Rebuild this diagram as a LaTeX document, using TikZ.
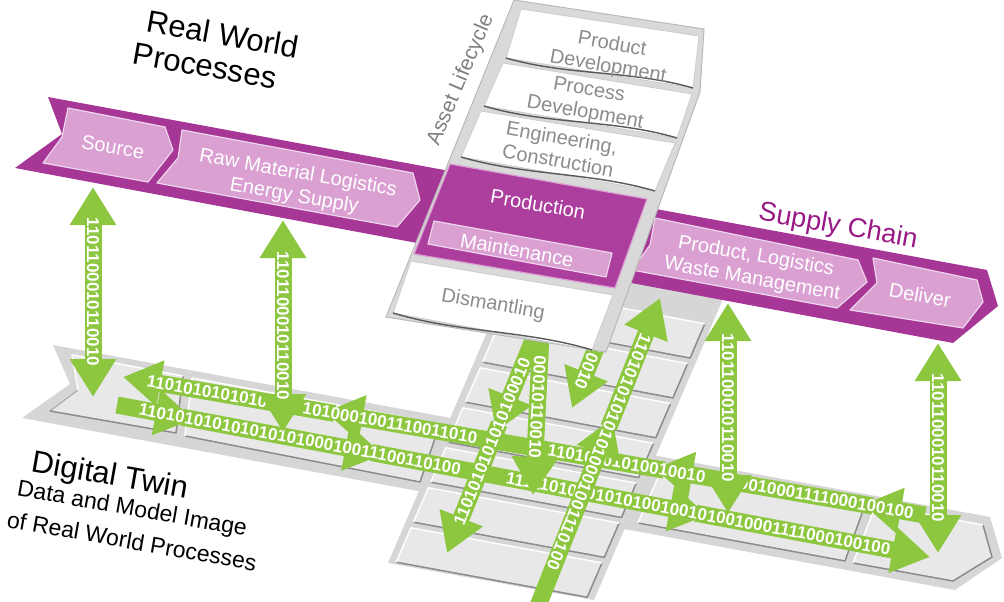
\documentclass[tikz,border=0pt]{standalone}
\usepackage{fontspec}
\setmainfont{Liberation Sans}
\usetikzlibrary{arrows.meta,calc}

\definecolor{bandmag}{RGB}{166,55,150}
\definecolor{prodmag}{RGB}{172,62,158}
\definecolor{chevpink}{RGB}{218,160,210}
\definecolor{supplymag}{RGB}{152,24,134}
\definecolor{bitgreen}{RGB}{141,198,63}
\definecolor{twingray}{RGB}{214,214,214}
\definecolor{tilegray}{RGB}{232,232,232}

\tikzset{
  chev/.style={fill=chevpink, draw=white!55!chevpink, line width=1.2pt, line join=round},
  tile/.style={fill=tilegray, draw=gray!70, line width=1pt, line join=round},
  tilelight/.style={draw=white, line width=1.6pt, line join=round},
  tileshade/.style={draw=black!45, line width=1.4pt, line join=round},
  lifebox/.style={fill=white, draw=gray!40, line width=0.8pt},
  paperedge/.style={draw=black!65, line width=1.4pt},
  bits/.style={draw=bitgreen, line width=17pt, -{Triangle[width=44pt,length=38pt]}},
  bitsboth/.style={draw=bitgreen, line width=17pt, {Triangle[width=44pt,length=38pt]}-{Triangle[width=44pt,length=38pt]}},
  bittext/.style={text=white, inner sep=0pt, font=\fontsize{17}{17}\selectfont\bfseries},
  boxtext/.style={text=white, align=center, font=\fontsize{20}{23}\selectfont},
  lifetext/.style={text=black!45, align=center, font=\fontsize{20}{23}\selectfont},
  titletext/.style={font=\fontsize{31}{31}\selectfont},
  subtext/.style={font=\fontsize{23}{23}\selectfont},
}

\begin{document}
\begin{tikzpicture}[x=1pt,y=-1pt]
      \useasboundingbox (0,0) rectangle (1004,602) ;
      % digital twin platform
      \fill[twingray] (53,345) -- (990,517) -- (1002,558) -- (955,590) -- (22,418) -- (70,384) -- cycle ;
      \fill[twingray] (520,255) -- (732,278) -- (594,600) -- (388,563) -- cycle ;
      \draw[tile] (72,355) -- (183,376) -- (176,433) -- (50,411) -- (78,390) -- cycle ;
      \draw[tileshade] (183,376) -- (176,433) -- (50,411) ;
      \draw[tilelight] (78,390) -- (72,355) -- (183,376) ;
      \draw[tile] (192,378) -- (440,424) -- (420,482) -- (185,436) -- cycle ;
      \draw[tileshade] (440,424) -- (420,482) -- (185,436) ;
      \draw[tilelight] (185,436) -- (192,378) -- (440,424) ;
      \draw[tile] (664,464) -- (866,502) -- (845,561) -- (638,523) -- cycle ;
      \draw[tileshade] (866,502) -- (845,561) -- (638,523) ;
      \draw[tilelight] (638,523) -- (664,464) -- (866,502) ;
      \draw[tile] (876,505) -- (983,525) -- (992,557) -- (953,581) -- (853,563) -- cycle ;
      \draw[tileshade] (983,525) -- (992,557) -- (953,581) -- (853,563) ;
      \draw[tilelight] (853,563) -- (876,505) -- (983,525) ;
      \coordinate (IL1) at (516,285) ;
      \coordinate (IR1) at (706,321) ;
      \coordinate (IR2) at (586,600) ;
      \coordinate (IL2) at (395,565) ;
      \foreach \i in {0,...,6} {
        \pgfmathsetmacro\ta{\i/7+0.01}
        \pgfmathsetmacro\tb{(\i+1)/7-0.01}
        \draw[tile] ($(IL1)!\ta!(IL2)$) -- ($(IR1)!\ta!(IR2)$) -- ($(IR1)!\tb!(IR2)$) -- ($(IL1)!\tb!(IL2)$) -- cycle ;
        \draw[tileshade] ($(IR1)!\ta!(IR2)$) -- ($(IR1)!\tb!(IR2)$) -- ($(IL1)!\tb!(IL2)$) ;
        \draw[tilelight] ($(IL1)!\tb!(IL2)$) -- ($(IL1)!\ta!(IL2)$) -- ($(IR1)!\ta!(IR2)$) ;
      }
      % data rows in the twin
      \coordinate (rowAl) at (123,377) ;
      \coordinate (rowAr) at (925,515) ;
      \draw[bits] (rowAr) -- ($(rowAl)!0.923!(rowAr)$) ;
      \draw[bits] ($(rowAl)!0.935!(rowAr)$) -- ($(rowAl)!0.663!(rowAr)$) ;
      \draw[bits] ($(rowAl)!0.675!(rowAr)$) -- ($(rowAl)!0.252!(rowAr)$) ;
      \draw[bits] ($(rowAl)!0.264!(rowAr)$) -- (rowAl) ;
      \node[bittext, rotate=-9.8] (bitsA1) at ($(rowAl)!0.105!(rowAr)$) {1101010101010} ;
      \node[bittext, rotate=-9.8] (bitsA2) at ($(rowAl)!0.333!(rowAr)$) {1010001001110011010} ;
      \node[bittext, rotate=-9.8] (bitsA3) at ($(rowAl)!0.628!(rowAr)$) {11010101010010010} ;
      \node[bittext, rotate=-9.8] (bitsA4) at ($(rowAl)!0.877!(rowAr)$) {0010001111000100100} ;
      \coordinate (rowBl) at (117,405) ;
      \coordinate (rowBr) at (930,557) ;
      \draw[bits] (rowBl) -- ($(rowBl)!0.094!(rowBr)$) ;
      \draw[bits] ($(rowBl)!0.08!(rowBr)$) -- ($(rowBl)!0.327!(rowBr)$) ;
      \draw[bits] ($(rowBl)!0.313!(rowBr)$) -- ($(rowBl)!0.726!(rowBr)$) ;
      \draw[bits] ($(rowBl)!0.712!(rowBr)$) -- (rowBr) ;
      \node[bittext, rotate=-10.6] (bitsB1) at ($(rowBl)!0.225!(rowBr)$) {11010101010101010100010011100110100} ;
      \node[bittext, rotate=-10.6] (bitsB2) at ($(rowBl)!0.715!(rowBr)$) {111110101010101001001010010001111000100100} ;
      % data columns under the lifecycle
      \coordinate (c1top) at (537,330) ;
      \coordinate (c1tip) at (447,553) ;
      \draw[bits] (c1top) -- ($(c1top)!0.457!(c1tip)$) ;
      \draw[bits] ($(c1top)!0.42!(c1tip)$) -- (c1tip) ;
      \node[bittext, rotate=68] (bitsC1) at ($(c1top)!0.5!(c1tip)$) {1101010101010100010} ;
      \coordinate (c5top) at (541,335) ;
      \coordinate (c5tip) at (533,495) ;
      \draw[bits] (c5top) -- (c5tip) ;
      \node[bittext, rotate=-93] (bitsC5) at ($(c5top)!0.45!(c5tip)$) {00010110010} ;
      \coordinate (c2low) at (538,606) ;
      \coordinate (c2tip) at (660,298) ;
      \draw[bits] (c2low) -- ($(c2low)!0.61!(c2tip)$) ;
      \draw[bits] ($(c2low)!0.58!(c2tip)$) -- (c2tip) ;
      \node[bittext, rotate=-112] (bitsC2) at ($(c2low)!0.5!(c2tip)$) {110101010101010001001110100} ;
      \coordinate (c3top) at (622,283) ;
      \coordinate (c3tip) at (572,408) ;
      \draw[bits] (c3top) -- (c3tip) ;
      \node[bittext, rotate=-112] (bitsC3) at ($(c3top)!0.5!(c3tip)$) {1100010010} ;
      % supply chain band
      \fill[bandmag] (48,97) -- (987,270) -- (998,306) -- (953,343) -- (15,168) -- (62,134) -- cycle ;
      \draw[chev] (68,108) -- (165,127) -- (173,150) -- (148,182) -- (43,163) -- (62,137) -- cycle ;
      \draw[chev] (182,130) -- (413,173) -- (420,200) -- (397,227) -- (157,183) -- (178,158) -- cycle ;
      \draw[chev] (655,218) -- (858,260) -- (867,282) -- (837,308) -- (632,270) -- (650,245) -- cycle ;
      \draw[chev] (873,258) -- (977,280) -- (983,302) -- (963,328) -- (850,310) -- (877,283) -- cycle ;
      \node[boxtext, rotate=-10] (source) at (113,147) {Source} ;
      \node[boxtext, rotate=-10] (rawmat) at (296,185) {Raw Material Logistics\\Energy Supply} ;
      \node[boxtext, rotate=-10] (prodlog) at (754,268) {Product, Logistics\\Waste Management} ;
      \node[boxtext, rotate=-10] (deliver) at (920,295) {Deliver} ;
      % asset lifecycle column
      \draw[fill=gray!30, draw=gray!55, line width=1pt] (514,0) -- (704,29) -- (700,92) -- (606,352) -- (386,317) -- cycle ;
      \draw[lifebox] (521,9) -- (699,36) -- (693,88) -- (506,58) -- cycle ;
      \draw[paperedge] (506,58) .. controls (568,76) and (631,70) .. (693,88) ;
      \draw[lifebox] (503,63) -- (692,94) -- (677,138) -- (484,106) -- cycle ;
      \draw[paperedge] (484,106) .. controls (548,125) and (613,119) .. (677,138) ;
      \draw[lifebox] (481,111) -- (675,143) -- (655,191) -- (461,157) -- cycle ;
      \draw[paperedge] (461,157) .. controls (526,176) and (590,172) .. (655,191) ;
      \draw[fill=prodmag, draw=chevpink, line width=1.2pt] (450,164) -- (647,199) -- (615,288) -- (414,254) -- cycle ;
      \draw[chev] (434,221) -- (612,253) -- (606,277) -- (428,244) -- cycle ;
      \draw[lifebox] (411,261) -- (613,295) -- (592,350) -- (393,313) -- cycle ;
      \draw[paperedge] (393,313) .. controls (459,333) and (526,330) .. (592,350) ;
      \node[lifetext, rotate=-10] (proddev) at (610,56) {Product\\Development} ;
      \node[lifetext, rotate=-10] (procdev) at (587,102) {Process\\Development} ;
      \node[lifetext, rotate=-10] (engcon) at (560,149) {Engineering,\\Construction} ;
      \node[boxtext, rotate=-10] (production) at (538,204) {Production} ;
      \node[boxtext, rotate=-10] (maint) at (517,250) {Maintenance} ;
      \node[lifetext, rotate=-10] (dism) at (493,305) {Dismantling} ;
      \node[rotate=67, text=black!50, font=\fontsize{21}{21}\selectfont] (asset) at (461,80) {Asset Lifecycle} ;
      % links between real world and twin
      \coordinate (srcReal) at (93,187) ;
      \coordinate (srcTwin) at (93,397) ;
      \coordinate (rawReal) at (283,220) ;
      \coordinate (rawTwin) at (283,432) ;
      \coordinate (prodReal) at (728,303) ;
      \coordinate (prodTwin) at (728,513) ;
      \coordinate (delReal) at (938,343) ;
      \coordinate (delTwin) at (938,553) ;
      \draw[bitsboth] (srcReal) -- (srcTwin) ;
      \draw[bitsboth] (rawReal) -- (rawTwin) ;
      \draw[bitsboth] (prodReal) -- (prodTwin) ;
      \draw[bitsboth] (delReal) -- (delTwin) ;
      \node[bittext, rotate=-90] (bitsSrc) at ($(srcReal)!0.5!(srcTwin)$) {1101100010110010} ;
      \node[bittext, rotate=-90] (bitsRaw) at ($(rawReal)!0.5!(rawTwin)$) {1101100010110010} ;
      \node[bittext, rotate=-90] (bitsProd) at ($(prodReal)!0.5!(prodTwin)$) {1101100010110010} ;
      \node[bittext, rotate=-90] (bitsDel) at ($(delReal)!0.5!(delTwin)$) {1101100010110010} ;
      % titles
      \node[titletext, rotate=-10] (realworld) at (223,34) {Real World} ;
      \node[titletext, rotate=-10] (processes) at (205,66) {Processes} ;
      \node[rotate=-10, text=supplymag, font=\fontsize{27}{27}\selectfont] (supply) at (838,227) {Supply Chain} ;
      \node[titletext, rotate=-10] (twin) at (110,477) {Digital Twin} ;
      \node[subtext, rotate=-10] (model) at (132,510) {Data and Model Image} ;
      \node[subtext, rotate=-10] (ofreal) at (132,541) {of Real World Processes} ;
    \end{tikzpicture}
\end{document}
